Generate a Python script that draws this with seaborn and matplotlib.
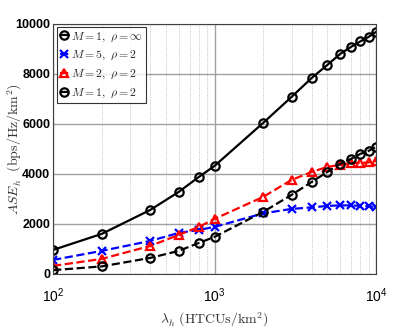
import numpy as np
import pandas as pd
import seaborn as sns
import matplotlib
matplotlib.use("Agg")
import matplotlib.pyplot as plt
from matplotlib.ticker import LogLocator, NullFormatter

# density of HTCUs (per km^2)
lam = [100, 200, 400, 600, 800, 1000, 2000, 3000, 4000, 5000, 6000, 7000, 8000, 9000, 10000]

ase_m1_inf = [960, 1600, 2560, 3280, 3880, 4320, 6040, 7080, 7840, 8360, 8800, 9080, 9300, 9480, 9680]
ase_m5_r2 = [560, 920, 1320, 1640, 1760, 1880, 2420, 2600, 2660, 2720, 2740, 2740, 2720, 2700, 2680]
ase_m2_r2 = [320, 600, 1120, 1560, 1880, 2200, 3080, 3760, 4080, 4280, 4360, 4440, 4440, 4460, 4520]
ase_m1_r2 = [150, 300, 640, 920, 1240, 1480, 2480, 3160, 3680, 4080, 4400, 4600, 4800, 4920, 5080]

labels = [r"$M=1,\ \rho=\infty$", r"$M=5,\ \rho=2$", r"$M=2,\ \rho=2$", r"$M=1,\ \rho=2$"]
series = [ase_m1_inf, ase_m5_r2, ase_m2_r2, ase_m1_r2]

sns.set_style("white")
plt.rcParams["mathtext.fontset"] = "cm"
plt.rcParams["font.family"] = ["Liberation Sans", "DejaVu Sans"]

fig = plt.figure(figsize=(4.15, 3.32), dpi=100)
ax = fig.add_axes([0.128, 0.175, 0.778, 0.753])

styles = [
    dict(color="black", ls="-", marker="o", mfc="none", mec="black"),
    dict(color="blue", ls="--", marker="x", mfc="blue", mec="blue"),
    dict(color="red", ls="--", marker="^", mfc="none", mec="red"),
    dict(color="black", ls="--", marker="o", mfc="none", mec="black"),
]

for vals, lab, st in zip(series, labels, styles):
    sns.lineplot(x=lam, y=vals, ax=ax, label=lab, color=st["color"], linestyle=st["ls"],
                 marker=st["marker"], markerfacecolor=st["mfc"], markeredgecolor=st["mec"],
                 markersize=6, markeredgewidth=1.6, linewidth=1.6)

ax.set_xscale("log")
ax.set_xlim(100, 10000)
ax.set_ylim(0, 10000)
ax.set_yticks([0, 2000, 4000, 6000, 8000, 10000])
ax.xaxis.set_minor_locator(LogLocator(base=10, subs=np.arange(2, 10)))
ax.xaxis.set_minor_formatter(NullFormatter())

ax.grid(True, which="major", color="#a0a0a0", linewidth=1.0, linestyle="-")
ax.grid(True, which="minor", axis="x", color="#b0b0b0", linewidth=0.6, linestyle=":")

for s in ax.spines.values():
    s.set_color("#404040")
    s.set_linewidth(0.8)

ax.tick_params(axis="both", which="major", labelsize=9, direction="in", length=4, colors="black")
ax.tick_params(axis="x", which="minor", direction="in", length=2)
ax.tick_params(axis="x", labelsize=10, pad=9)
ax.tick_params(axis="y", pad=2)
for t in ax.get_yticklabels():
    t.set_fontweight("bold")

ax.set_xlabel(r"$\lambda_h\ \mathrm{(HTCUs/km^2)}$", fontsize=10, color="#333333", labelpad=4)
ax.set_ylabel(r"$ASE_h\ \ \mathrm{(bps/Hz/km^2)}$", fontsize=10, color="#333333")
ax.yaxis.set_label_coords(-0.09, 0.5)

leg = ax.legend(loc="upper left", fontsize=8.5, frameon=True, fancybox=False,
                edgecolor="black", handlelength=0.8, handletextpad=0.2,
                borderpad=0.25, labelspacing=0.45, borderaxespad=0.3)
leg.get_frame().set_linewidth(0.8)

fig.savefig("out.png", dpi=100)
